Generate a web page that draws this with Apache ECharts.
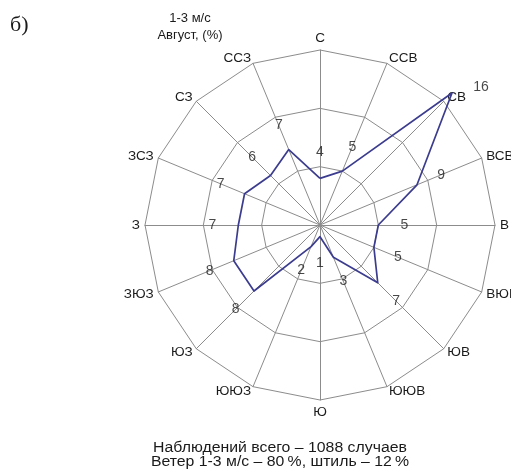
<!DOCTYPE html>
<html>
<head>
<meta charset="utf-8">
<script src="https://cdn.jsdelivr.net/npm/echarts@6/dist/echarts.min.js"></script>
<style>
  html, body { margin: 0; padding: 0; background: #ffffff; }
  #chart { width: 511px; height: 473px; }
</style>
</head>
<body>
<div id="chart"></div>
<script>
// Румбы по часовой стрелке, начиная с севера
const directions = ['С', 'ССВ', 'СВ', 'ВСВ', 'В', 'ВЮВ', 'ЮВ', 'ЮЮВ',
                    'Ю', 'ЮЮЗ', 'ЮЗ', 'ЗЮЗ', 'З', 'ЗСЗ', 'СЗ', 'ССЗ'];
// Азимут каждого румба, градусы
const bearings = [0, 22.5, 45, 67.5, 90, 112.5, 135, 157.5,
                  180, 202.5, 225, 247.5, 270, 292.5, 315, 337.5];
// Повторяемость ветра 1-3 м/с в августе, %
const frequency = [4, 5, 16, 9, 5, 5, 7, 3, 1, 2, 8, 8, 7, 7, 6, 7];
// Шкала: внешнее кольцо и число колец
const scaleMax = 15;
const ringCount = 3;

const titleLines = ['1-3 м/с', 'Август, (%)'];
const panelMark = 'б)';
const footerLines = ['Наблюдений всего – 1088 случаев',
                     'Ветер 1-3 м/с – 80\u2009%, штиль – 12\u2009%'];

const FONT = '"Liberation Sans", Arial, sans-serif';
const INK = '#1a1a1a';
const CENTER = [320, 225];
const RADIUS = 175;
const GRID = '#8c8c8c';
const LINE = '#3c3c8e';
const LABEL_GAP = 26;
const labelShift = { 'СВ': [29, -6] };

// Радар строит оси против часовой стрелки — переставляем румбы
const radarOrder = directions.map((_, i) => (directions.length - i) % directions.length);

const chart = echarts.init(document.getElementById('chart'), null, { renderer: 'canvas' });

chart.setOption({
  backgroundColor: '#ffffff',
  animation: false,
  radar: {
    center: CENTER,
    radius: RADIUS,
    startAngle: 90,
    shape: 'polygon',
    splitNumber: ringCount,
    nameGap: 5,
    indicator: radarOrder.map(i => ({ name: directions[i], min: 0, max: scaleMax })),
    axisName: { color: INK, fontSize: 13.5, fontFamily: FONT },
    axisLine: { lineStyle: { color: GRID, width: 1 } },
    splitLine: { lineStyle: { color: GRID, width: 1 } },
    splitArea: { show: false },
    axisTick: { show: false },
    axisLabel: { show: false }
  },
  polar: { center: CENTER, radius: RADIUS },
  angleAxis: { type: 'value', min: 0, max: 360, startAngle: 90, clockwise: true, show: false },
  radiusAxis: { type: 'value', min: 0, max: scaleMax, show: false },
  graphic: [
    { type: 'text', left: 10, top: 14,
      style: { text: panelMark, font: '22px "Liberation Serif", "DejaVu Serif", serif', fill: INK } },
    { type: 'text', x: 190, y: 27,
      style: { text: titleLines.join('\n'), font: '13px ' + FONT, fill: INK,
               align: 'center', verticalAlign: 'middle', lineHeight: 17 } },
    { type: 'text', x: 280, y: 455, scaleX: 1.13,
      style: { text: footerLines.join('\n'), font: '14px ' + FONT, fill: INK,
               align: 'center', verticalAlign: 'middle', lineHeight: 14 } }
  ],
  series: [
    {
      type: 'radar',
      symbol: 'none',
      silent: true,
      lineStyle: { color: LINE, width: 1.7 },
      data: [{ value: radarOrder.map(i => frequency[i]) }]
    },
    {
      type: 'scatter',
      coordinateSystem: 'polar',
      symbolSize: 0,
      clip: false,
      silent: true,
      label: {
        show: true,
        position: 'inside',
        color: INK,
        fontSize: 14,
        fontFamily: FONT,
        formatter: p => String(p.value[0])
      },
      data: frequency.map((v, i) => {
        const a = bearings[i] * Math.PI / 180;
        const off = labelShift[directions[i]] ||
          [LABEL_GAP * Math.sin(a), -LABEL_GAP * Math.cos(a)];
        return { value: [v, bearings[i]], label: { offset: off } };
      })
    }
  ]
});
</script>
</body>
</html>
